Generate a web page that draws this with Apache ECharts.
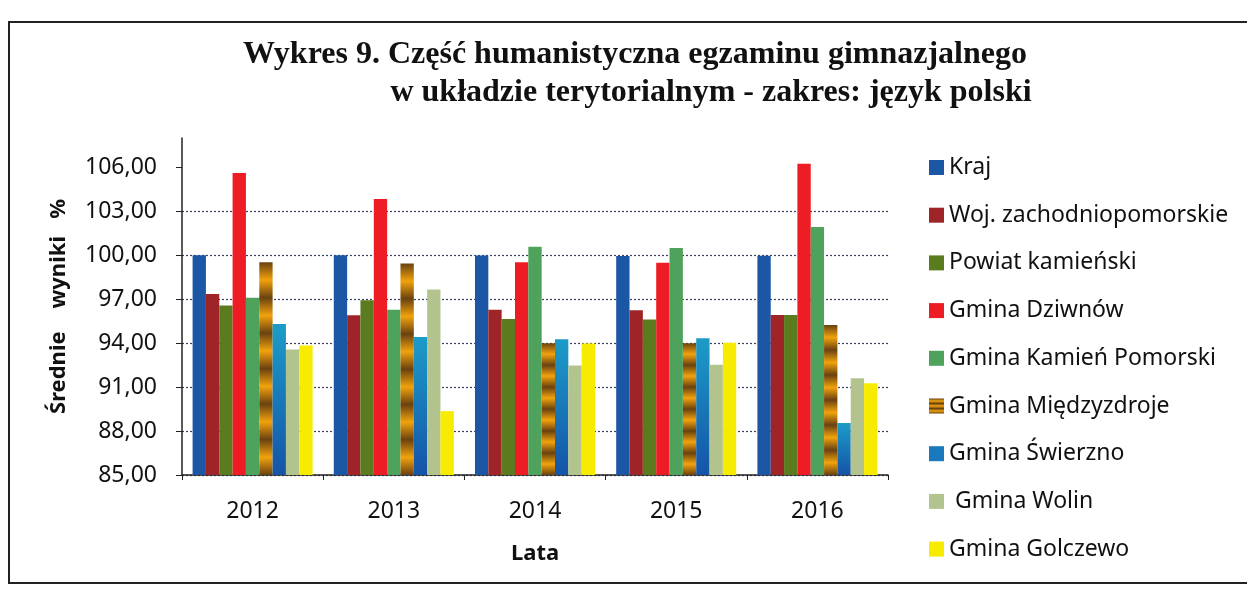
<!DOCTYPE html>
<html>
<head>
<meta charset="utf-8">
<script src="https://cdn.jsdelivr.net/npm/echarts@6/dist/echarts.min.js"></script>
<style>
  html, body { margin: 0; padding: 0; background: #fff; }
  #chart { width: 1247px; height: 597px; }
</style>
</head>
<body>
<div id="chart"></div>
<script>
// dane
const years = ["2012", "2013", "2014", "2015", "2016"];
const yTicks = [85, 88, 91, 94, 97, 100, 103, 106];
const kraj = [100.0, 100.0, 99.98, 99.95, 99.97];
const woj = [97.36, 95.91, 96.27, 96.25, 95.92];
const powiat = [96.57, 96.93, 95.64, 95.61, 95.92];
const dziwnow = [105.61, 103.84, 99.52, 99.48, 106.24];
const kamien = [97.09, 96.27, 100.57, 100.5, 101.93];
const miedzyzdroje = [99.52, 99.43, 94.0, 94.0, 95.24];
const swierzno = [95.3, 94.41, 94.27, 94.33, 88.55];
const wolin = [93.57, 97.66, 92.48, 92.52, 91.6];
const golczewo = [93.84, 89.36, 93.98, 94.02, 91.26];

const names = [
  "Kraj",
  "Woj. zachodniopomorskie",
  "Powiat kamieński",
  "Gmina Dziwnów",
  "Gmina Kamień Pomorski",
  "Gmina Międzyzdroje",
  "Gmina Świerzno",
  " Gmina Wolin",
  "Gmina Golczewo"
];
const values = [kraj, woj, powiat, dziwnow, kamien, miedzyzdroje, swierzno, wolin, golczewo];

// paski w Międzyzdrojach
function stripes(n) {
  const stops = [];
  for (let i = 0; i <= n; i++) {
    stops.push({ offset: i / n, color: i % 2 === 0 ? "#6a4210" : "#f2a20c" });
  }
  return new echarts.graphic.LinearGradient(0, 0, 0, 1, stops);
}

const colors = [
  "#1c57a6",
  "#9e2428",
  "#5b7b1f",
  "#ee1c24",
  "#4ea25c",
  stripes(12),
  new echarts.graphic.LinearGradient(0, 0, 0, 1, [
    { offset: 0, color: "#1c9cc8" },
    { offset: 1, color: "#1554a8" }
  ]),
  "#b3c38e",
  "#f7ec00"
];
const legendColors = ["#1c57a6", "#9e2428", "#5b7b1f", "#ee1c24", "#4ea25c", stripes(6), "#1a78bf", "#b3c38e", "#f7ec00"];

const font = "'Noto Sans', sans-serif";
const titleFont = "'Liberation Serif', serif";

const chart = echarts.init(document.getElementById("chart"));

chart.setOption({
  backgroundColor: "#fff",
  animation: false,
  title: [
    {
      text: "Wykres 9. Część humanistyczna egzaminu gimnazjalnego",
      left: 630,
      top: 34,
      textAlign: "center",
      textStyle: { fontFamily: titleFont, fontWeight: "bold", fontSize: 32, color: "#111" }
    },
    {
      text: "w układzie terytorialnym - zakres: język polski",
      left: 706,
      top: 72,
      textAlign: "center",
      textStyle: { fontFamily: titleFont, fontWeight: "bold", fontSize: 32, color: "#111" }
    }
  ],
  graphic: [
    {
      type: "rect",
      shape: { x: 9, y: 22, width: 1260, height: 561 },
      style: { fill: "none", stroke: "#222", lineWidth: 2 },
      silent: true
    }
  ],
  legend: {
    orient: "vertical",
    left: 929,
    top: 156,
    padding: 0,
    icon: "rect",
    itemWidth: 15,
    itemHeight: 15,
    itemGap: 24.7,
    data: names.map((n, i) => ({ name: n, itemStyle: { color: legendColors[i] } })),
    textStyle: { fontFamily: font, fontSize: 23, color: "#111" }
  },
  grid: {
    left: 182,
    right: 359,
    top: 138,
    bottom: 122
  },
  xAxis: {
    type: "category",
    data: years,
    name: "Lata",
    nameLocation: "middle",
    nameGap: 68,
    nameTextStyle: { fontFamily: font, fontSize: 22, fontWeight: "bold", color: "#111" },
    axisLine: { lineStyle: { color: "#222", width: 1.5 } },
    axisTick: { show: true, length: 5, lineStyle: { color: "#222" } },
    axisLabel: { fontFamily: font, fontSize: 23, color: "#111", margin: 25 }
  },
  yAxis: {
    type: "value",
    min: 85,
    max: 108,
    interval: 3,
    name: "Średnie    wyniki   %",
    nameLocation: "middle",
    nameGap: 112,
    nameTextStyle: { fontFamily: font, fontSize: 22, fontWeight: "bold", color: "#111" },
    axisLine: { show: true, lineStyle: { color: "#222", width: 1.5 } },
    axisTick: { show: true, length: 6, customValues: yTicks, lineStyle: { color: "#222" } },
    axisLabel: {
      fontFamily: font,
      fontSize: 23,
      color: "#111",
      margin: 25,
      customValues: yTicks,
      formatter: v => v.toFixed(2).replace(".", ",")
    },
    splitLine: { showMaxLine: false, lineStyle: { color: "#3a4260", type: [2, 2], width: 1.2 } }
  },
  series: names.map((n, i) => ({
    name: n,
    type: "bar",
    data: values[i],
    barGap: "0%",
    barCategoryGap: "15%",
    itemStyle: { color: colors[i] }
  }))
});
</script>
</body>
</html>
